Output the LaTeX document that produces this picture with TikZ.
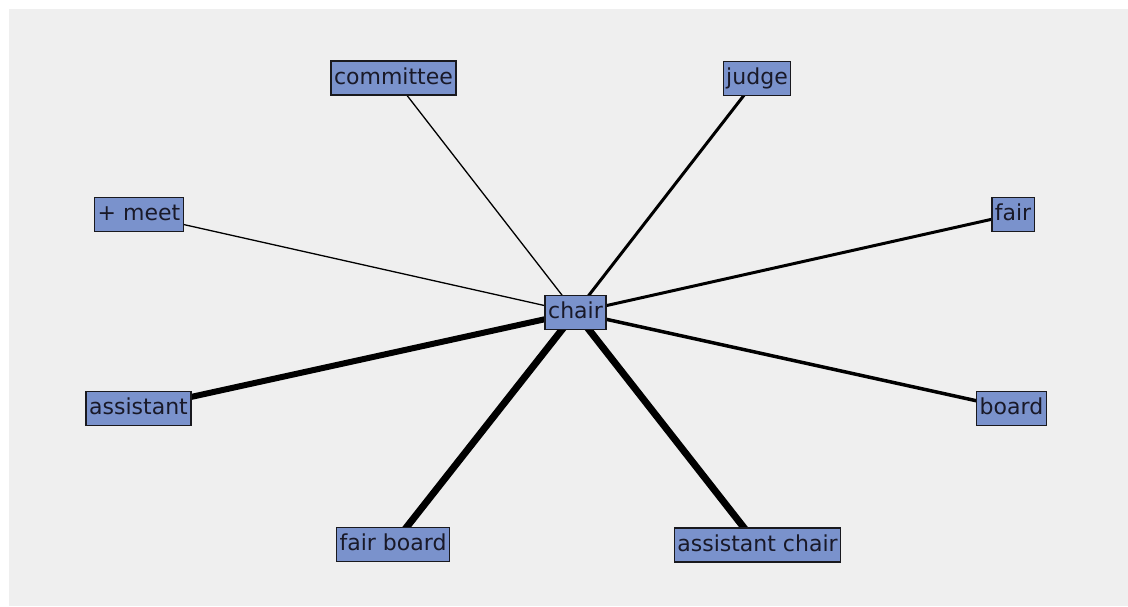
\documentclass[tikz,border=0pt]{standalone}
\usepackage{fontspec}
\setmainfont{DejaVu Sans}
\usetikzlibrary{backgrounds}
\definecolor{panel}{RGB}{239,239,239}
\definecolor{boxfill}{RGB}{122,146,204}
\definecolor{boxline}{RGB}{25,25,30}
\definecolor{txt}{RGB}{25,25,40}
\tikzset{
  word/.style={draw=boxline, line width=1.4pt, fill=boxfill, text=txt,
    font=\fontsize{22pt}{24pt}\selectfont, inner xsep=3pt, inner ysep=0pt,
    minimum height=34pt, text height=16.5pt, text depth=4.5pt},
  link/.style={draw=black, line cap=butt},
}
\begin{document}
\begin{tikzpicture}[x=1pt,y=-1pt]
\useasboundingbox (0,0) rectangle (1128,606);
\node[word] (chair) at (575.5,312.5) {chair};
\node[word] (committee) at (393.5,78) {committee};
\node[word] (judge) at (757,78.5) {judge};
\node[word] (meet) at (139,214.5) {+ meet};
\node[word] (fair) at (1013,214.5) {fair};
\node[word] (assistant) at (138.5,408.5) {assistant};
\node[word] (board) at (1011.5,408.5) {board};
\node[word] (fairboard) at (393,544.5) {fair board};
\node[word] (achair) at (757.5,545) {assistant chair};
\begin{scope}[on background layer]
\fill[white] (0,0) rectangle (1128,606);
\fill[panel] (9,9) rectangle (1128,606);
\draw[link, line width=1.3pt] (chair.center) -- (committee.center);
\draw[link, line width=1.3pt] (chair.center) -- (meet.center);
\draw[link, line width=3pt] (chair.center) -- (judge.center);
\draw[link, line width=3pt] (chair.center) -- (fair.center);
\draw[link, line width=3.5pt] (chair.center) -- (board.center);
\draw[link, line width=6pt] (chair.center) -- (assistant.center);
\draw[link, line width=7pt] (chair.center) -- (fairboard.center);
\draw[link, line width=7pt] (chair.center) -- (achair.center);
\end{scope}
\end{tikzpicture}
\end{document}
